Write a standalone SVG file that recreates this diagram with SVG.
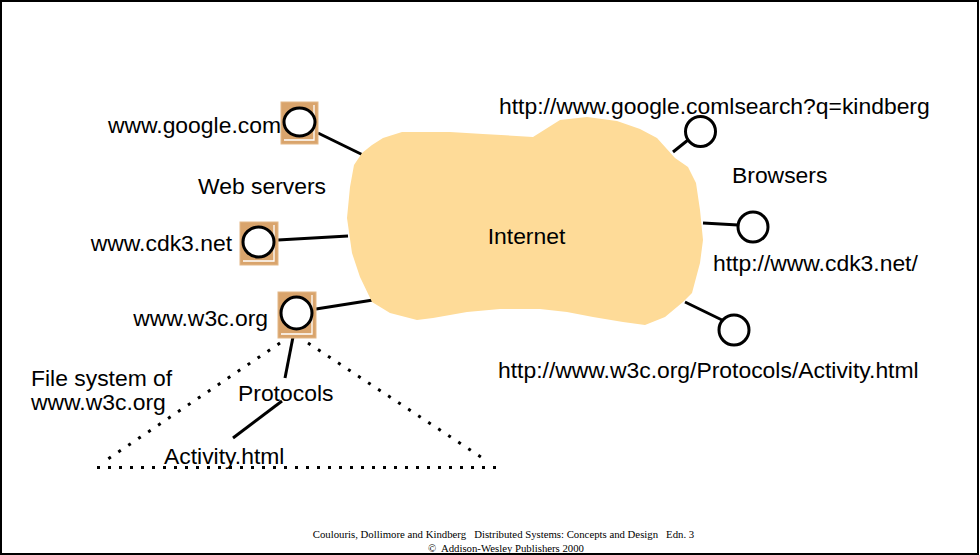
<svg xmlns="http://www.w3.org/2000/svg" width="980" height="555" viewBox="0 0 980 555">
<style>
.t{font-family:"Liberation Sans",Arial,sans-serif;font-size:22.9px;fill:#000}
.f{font-family:"Liberation Serif","Times New Roman",serif;font-size:10.75px;fill:#000}
.box{fill:#d9a46c;stroke:#e3b887;stroke-width:1}
.bev{fill:none;stroke:#fff;stroke-width:1.3}
.ring{fill:#fff;stroke:#000;stroke-width:3}
.ln{stroke:#000;stroke-width:3;fill:none}
.dot{stroke:#000;stroke-width:3;fill:none;stroke-dasharray:3 9}
</style>
<rect x="1" y="1" width="977" height="553" fill="#fff" stroke="#000" stroke-width="2"/>
<g id="connectors">
<line class="ln" x1="318" y1="133" x2="363" y2="155"/>
<line class="ln" x1="278" y1="240" x2="348" y2="236"/>
<line class="ln" x1="316" y1="309" x2="373" y2="300"/>
<line class="ln" x1="673" y1="152" x2="688" y2="140"/>
<line class="ln" x1="703" y1="223" x2="738" y2="225"/>
<line class="ln" x1="685" y1="302" x2="722" y2="320"/>
<line class="ln" x1="293" y1="337" x2="285" y2="378"/>
<line class="ln" x1="282" y1="401" x2="233" y2="438"/>
</g>
<g id="internet">
<polygon fill="#fedb98" points="402,132 450,132 483,134 533,137 560,120 587,117 617,121 640,129 657,138 675,158 688,167 696,183 700,210 703,240 700,263 692,293 683,302 665,317 645,325 623,322 593,317 567,312 540,309 500,309 467,312 433,318 417,320 390,313 372,302 360,277 352,253 347,218 350,187 354,165 362,153 372,145 383,138"/>
<text class="t" x="526.5" y="244" text-anchor="middle">Internet</text>
</g>
<g id="server-google">
<rect class="box" x="281" y="102" width="37" height="42"/>
<polyline class="bev" points="314,105 314,140 284,140"/>
<ellipse class="ring" cx="299.5" cy="122" rx="15.5" ry="14"/>
</g>
<g id="server-cdk3">
<rect class="box" x="240" y="222" width="38" height="43"/>
<polyline class="bev" points="274,225 274,261 243,261"/>
<ellipse class="ring" cx="258.5" cy="242" rx="15.5" ry="15"/>
</g>
<g id="server-w3c">
<rect class="box" x="278" y="292" width="38" height="46"/>
<polyline class="bev" points="312,295 312,334 281,334"/>
<ellipse class="ring" cx="296.5" cy="313" rx="15.5" ry="16"/>
</g>
<g id="browser-google"><circle class="ring" cx="700.5" cy="131.5" r="15"/></g>
<g id="browser-cdk3"><circle class="ring" cx="753" cy="227" r="15"/></g>
<g id="browser-w3c"><circle class="ring" cx="734" cy="330" r="15"/></g>
<g id="filesystem">
<line class="dot" x1="280" y1="343" x2="105" y2="461"/>
<line class="dot" x1="308" y1="343" x2="487" y2="461"/>
<line class="dot" x1="97" y1="467.5" x2="500" y2="467.5" style="stroke-dasharray:3 8"/>
</g>
<g id="labels">
<text class="t" x="281" y="133" text-anchor="end">www.google.com</text>
<text class="t" x="198" y="194">Web servers</text>
<text class="t" x="232" y="251" text-anchor="end">www.cdk3.net</text>
<text class="t" x="268" y="326" text-anchor="end">www.w3c.org</text>
<text class="t" x="31" y="386">File system of</text>
<text class="t" x="31" y="410">www.w3c.org</text>
<text class="t" x="238" y="401">Protocols</text>
<text class="t" x="164" y="464">Activity.html</text>
<text class="t" x="499" y="114">http://www.google.comlsearch?q=kindberg</text>
<text class="t" x="732" y="183">Browsers</text>
<text class="t" x="713" y="271">http://www.cdk3.net/</text>
<text class="t" x="498" y="378">http://www.w3c.org/Protocols/Activity.html</text>
</g>
<g id="footer">
<text class="f" x="503.5" y="538" text-anchor="middle" xml:space="preserve">Coulouris, Dollimore and Kindberg   Distributed Systems: Concepts and Design   Edn. 3</text>
<text class="f" x="506" y="552" text-anchor="middle" xml:space="preserve">©  Addison-Wesley Publishers 2000</text>
</g>
</svg>
